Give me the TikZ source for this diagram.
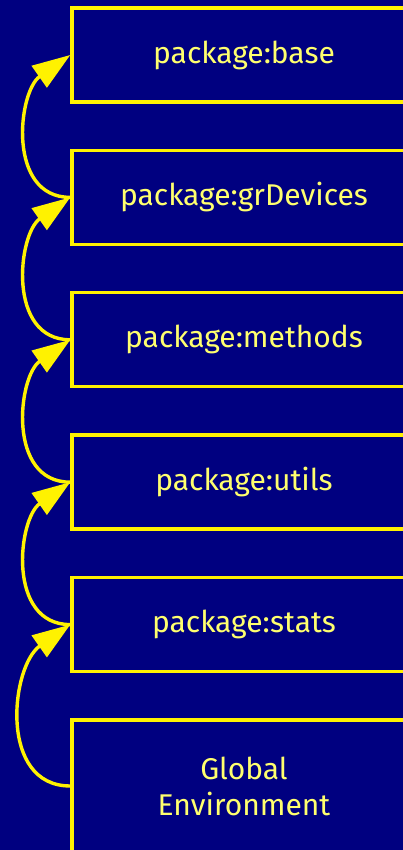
\documentclass[tikz,border=0pt]{standalone}
\usepackage{fontspec}
\setmainfont{Fira Sans}
\usepackage{tikz}
\usetikzlibrary{arrows.meta,positioning}
\definecolor{navy}{RGB}{0,0,128}
\definecolor{txtyellow}{RGB}{255,255,110}

\begin{document}
\begin{tikzpicture}[x=1pt,y=1pt,
  >={Triangle[length=38pt,width=26pt]},
  node distance=45pt,
  envbox/.style={draw=yellow,line width=3.4pt,minimum width=344pt,minimum height=94pt,
    text=txtyellow,font=\fontsize{30}{36}\selectfont,align=center},
  link/.style={->,draw=yellow,line width=3.4pt,out=180,in=215,looseness=1.15}]
  \fill[navy] (0,0) rectangle (403,850);
  \useasboundingbox (0,0) rectangle (403,850);
  % Search path, top to bottom
  \node[envbox] (base) at (244,795) {package:base};
  \node[envbox,below=of base] (grdev) {package:grDevices};
  \node[envbox,below=of grdev] (methods) {package:methods};
  \node[envbox,below=of methods] (utils) {package:utils};
  \node[envbox,below=of utils] (stats) {package:stats};
  \node[envbox,below=of stats,minimum height=132pt] (global) {Global\\Environment};
  % Enclosure links
  \draw[link] (grdev.west) to (base.west);
  \draw[link] (methods.west) to (grdev.west);
  \draw[link] (utils.west) to (methods.west);
  \draw[link] (stats.west) to (utils.west);
  \draw[link] (global.west) to (stats.west);
\end{tikzpicture}
\end{document}
